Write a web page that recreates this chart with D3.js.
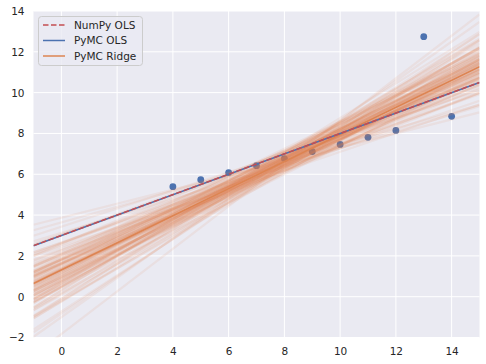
<!DOCTYPE html>
<html>
<head>
<meta charset="utf-8">
<script src="https://cdn.jsdelivr.net/npm/d3@7"></script>
<style>
  body { margin: 0; background: #fff; }
  text { font-family: "DejaVu Sans", sans-serif; fill: #262626; }
</style>
</head>
<body>
<div class="container"></div>
<script>
// observed points
let xs = [4, 5, 6, 7, 8, 9, 10, 11, 12, 13, 14]
let ys = [5.39, 5.73, 6.08, 6.42, 6.77, 7.11, 7.46, 7.81, 8.15, 12.74, 8.84]

// fitted lines: [intercept, slope]
let numpyOls = [3.0025, 0.4997]
let pymcOls = [3.0, 0.5]
let pymcRidge = [1.31, 0.664]

// posterior draws of the ridge model
let drawIntercepts = [1.40, 0.49, 2.54, -0.25, 1.75, 1.52, 2.66, 0.73, 1.63, 0.91,
    1.33, -0.11, 3.43, -0.19, 2.25, 0.88, 2.17, 1.07, 2.29, -0.09,
    1.19, 2.09, 0.50, 2.35, 1.17, 0.94, 0.67, 2.64, 0.61, 1.82,
    -0.83, 3.64, 0.48, 1.98, 1.94, 0.44, 1.39, 0.30, 3.04, 0.81,
    2.05, 0.55, 1.83, 0.15, 2.61, -0.72, 3.13, 1.37, 1.49, 0.19,
    -1.00, 3.87, 1.33, 2.04, 0.46, 1.82, 0.88, 1.63, -0.23, 3.05,
    -1.83, 1.75, 0.75, 1.80, 1.60, 1.10, 1.15, 1.63, 0.65, 2.13,
    0.76, 1.86, 0.61, 2.09, 0.32, 2.46, 0.09, 2.61, 1.27, 1.27,
    1.33, 1.29, 1.02, 1.60, 1.06, 1.56, 0.95, 1.67, 0.99, 1.63,
    1.43, 1.19, 0.75, 1.87, 0.98, 1.64, 0.80, 1.82, 1.25, 1.37]
let drawSlopes = [0.664, 0.744, 0.544, 0.814, 0.614, 0.694, 0.484, 0.764, 0.584, 0.714,
    0.644, 0.864, 0.444, 0.784, 0.564, 0.684, 0.624, 0.734, 0.514, 0.844,
    0.674, 0.594, 0.754, 0.534, 0.704, 0.654, 0.794, 0.464, 0.724, 0.634,
    0.914, 0.384, 0.774, 0.574, 0.664, 0.694, 0.604, 0.824, 0.504, 0.744,
    0.554, 0.714, 0.644, 0.804, 0.524, 0.884, 0.414, 0.684, 0.614, 0.764,
    0.964, 0.344, 0.724, 0.584, 0.784, 0.544, 0.704, 0.624, 0.834, 0.474,
    1.044, 0.654, 0.694, 0.624, 0.684, 0.634, 0.734, 0.574, 0.784, 0.524,
    0.664, 0.664, 0.714, 0.604, 0.844, 0.464, 0.754, 0.564, 0.694, 0.644,
    0.674, 0.654, 0.694, 0.634, 0.714, 0.614, 0.684, 0.644, 0.704, 0.624,
    0.664, 0.664, 0.724, 0.604, 0.674, 0.654, 0.734, 0.594, 0.694, 0.634]

let xTicks = [0, 2, 4, 6, 8, 10, 12, 14]
let yTicks = [-2, 0, 2, 4, 6, 8, 10, 12, 14]
let legendNames = ['NumPy OLS', 'PyMC OLS', 'PyMC Ridge']

let width = 486
let height = 364
let margin = { top: 11, left: 33.5, bottom: 26.5, right: 6.5 }

let xScale = d3.scaleLinear()
    .domain([-1, 15])
    .range([margin.left, width - margin.right])
let yScale = d3.scaleLinear()
    .domain([-2, 14])
    .range([height - margin.bottom, margin.top])

let svg = d3.select('.container')
    .append('svg')
    .attr('width', width)
    .attr('height', height)

svg.append('defs').append('clipPath')
    .attr('id', 'plot-clip')
    .append('rect')
    .attr('x', margin.left)
    .attr('y', margin.top)
    .attr('width', xScale.range()[1] - margin.left)
    .attr('height', yScale.range()[0] - margin.top)

svg.append('rect')
    .attr('x', margin.left)
    .attr('y', margin.top)
    .attr('width', xScale.range()[1] - margin.left)
    .attr('height', yScale.range()[0] - margin.top)
    .attr('fill', '#eaeaf2')

// grid
svg.append('g')
    .selectAll('line')
    .data(xTicks)
    .enter()
    .append('line')
    .attr('x1', d => xScale(d)).attr('x2', d => xScale(d))
    .attr('y1', margin.top).attr('y2', yScale.range()[0])
    .attr('stroke', '#fff').attr('stroke-width', 1)
svg.append('g')
    .selectAll('line')
    .data(yTicks)
    .enter()
    .append('line')
    .attr('y1', d => yScale(d)).attr('y2', d => yScale(d))
    .attr('x1', margin.left).attr('x2', xScale.range()[1])
    .attr('stroke', '#fff').attr('stroke-width', 1)

// axes (labels only, seaborn darkgrid has no spines)
let xAxis = d3.axisBottom(xScale).tickValues(xTicks).tickSize(0).tickPadding(10)
    .tickFormat(d => d < 0 ? '\u2212' + Math.abs(d) : d)
let yAxis = d3.axisLeft(yScale).tickValues(yTicks).tickSize(0).tickPadding(9)
    .tickFormat(d => d < 0 ? '\u2212' + Math.abs(d) : d)

let gx = svg.append('g')
    .attr('transform', `translate(0,${yScale.range()[0]})`)
    .call(xAxis)
let gy = svg.append('g')
    .attr('transform', `translate(${margin.left},0)`)
    .call(yAxis)
gx.select('.domain').remove()
gy.select('.domain').remove()
svg.selectAll('.tick text')
    .style('font-family', '"DejaVu Sans", sans-serif')
    .style('font-size', '10.5px')
    .attr('fill', '#262626')

let plot = svg.append('g').attr('clip-path', 'url(#plot-clip)')

// points
plot.selectAll('circle')
    .data(xs)
    .enter()
    .append('circle')
    .attr('cx', d => xScale(d))
    .attr('cy', (d, i) => yScale(ys[i]))
    .attr('r', 3.4)
    .attr('fill', '#4c72b0')

let x0 = xScale.domain()[0]
let x1 = xScale.domain()[1]
function drawLine(g, ab) {
    return g.append('line')
        .attr('x1', xScale(x0))
        .attr('y1', yScale(ab[0] + ab[1] * x0))
        .attr('x2', xScale(x1))
        .attr('y2', yScale(ab[0] + ab[1] * x1))
}

// posterior draws
drawIntercepts.forEach((a, i) => {
    drawLine(plot, [a, drawSlopes[i]])
        .attr('stroke', '#dd8452')
        .attr('stroke-width', 2.2)
        .attr('stroke-opacity', 0.1)
})

drawLine(plot, pymcRidge).attr('stroke', '#dd8452').attr('stroke-width', 1.5)
drawLine(plot, pymcOls).attr('stroke', '#4c72b0').attr('stroke-width', 1.5)
drawLine(plot, numpyOls).attr('stroke', '#c44e52').attr('stroke-width', 1.5)
    .attr('stroke-dasharray', '5.5,2.5')

// legend
let legend = svg.append('g')
legend.append('rect')
    .attr('x', 38.5).attr('y', 16.5)
    .attr('width', 104).attr('height', 49)
    .attr('rx', 3)
    .attr('fill', '#eaeaf2').attr('fill-opacity', 0.8)
    .attr('stroke', '#cccccc').attr('stroke-width', 1)
let legendStyles = [
    { color: '#c44e52', dash: '5.5,2.5' },
    { color: '#4c72b0', dash: null },
    { color: '#dd8452', dash: null }
]
legendNames.forEach((name, i) => {
    let y = 25 + i * 15.5
    legend.append('line')
        .attr('x1', 43).attr('x2', 65)
        .attr('y1', y).attr('y2', y)
        .attr('stroke', legendStyles[i].color)
        .attr('stroke-width', 1.5)
        .attr('stroke-dasharray', legendStyles[i].dash)
    legend.append('text')
        .attr('x', 74).attr('y', y + 3.8)
        .style('font-size', '10.5px')
        .text(name)
})
</script>
</body>
</html>
